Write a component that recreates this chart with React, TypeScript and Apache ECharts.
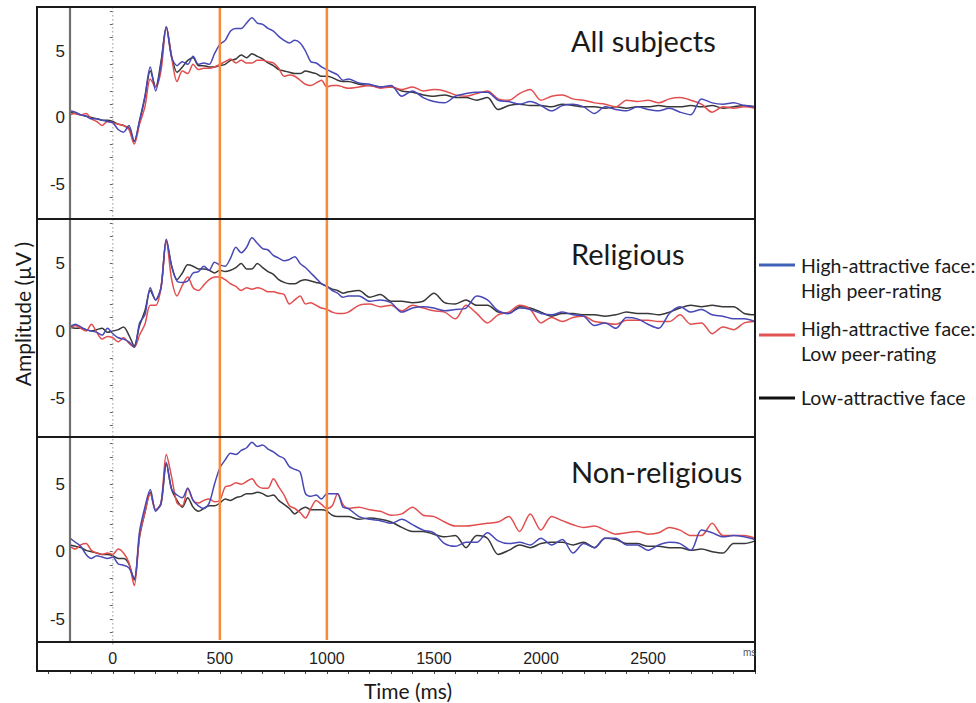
import React, { useEffect, useRef } from "react";
import * as echarts from "echarts";

// Sampling grid of the traces (ms): 25 ms steps up to 1100 ms, 50 ms steps afterwards
const earlyTimes: number[] = [];
for (let t = -200; t <= 1100; t += 25) earlyTimes.push(t);
const lateTimes: number[] = [];
for (let t = 1150; t <= 3000; t += 50) lateTimes.push(t);
const timesMs = earlyTimes.concat(lateTimes);

const panelTitles = ["All subjects", "Religious", "Non-religious"];
const legendLabels = [
  ["High-attractive face:", "High peer-rating"],
  ["High-attractive face:", "Low peer-rating"],
  ["Low-attractive face"],
];
const xTickLabels = [0, 500, 1000, 1500, 2000, 2500];
const yTickLabels = [-5, 0, 5];
const markerTimes = [500, 1000];

// ---- All subjects ----
const allHighHighEarly = [0.5,0.4,0.2,0.1,-0.1,-0.1,-0.2,-0.3,-0.4,-0.9,-1.1,-0.6,-1.8,-0.2,1.6,3.8,2.0,4.0,6.8,4.5,3.9,4.2,4.0,4.6,4.0,4.1,4.0,4.8,5.5,5.8,6.5,6.7,6.7,7.1,7.5,7.1,7.0,6.7,6.5,6.1,5.8,5.6,5.8,5.6,5.0,4.2,4.1,3.8,3.6,3.4,3.2,2.8,2.9];
const allHighHighLate = [2.6,2.5,2.3,2.4,1.6,2.0,1.5,1.2,1.1,1.6,1.8,1.9,1.9,1.3,1.2,1.0,1.2,0.9,0.5,0.9,1.0,0.8,0.3,0.8,0.6,0.5,0.8,0.6,0.5,0.7,0.4,0.2,1.4,1.1,1.0,1.1,0.9,0.8];
const allHighLowEarly = [0.2,0.3,0.2,0.3,-0.1,-0.3,-0.6,-0.3,-0.4,-0.5,-0.6,-0.9,-2.0,-0.5,0.8,2.9,2.3,3.5,6.8,4.5,2.7,3.5,3.3,4.0,3.6,3.7,3.7,3.8,4.0,4.2,4.4,4.1,4.3,4.1,4.1,4.3,4.3,4.2,4.1,3.7,3.1,3.2,3.1,2.8,2.5,2.4,2.6,2.8,2.3,2.4,2.4,2.3,2.2];
const allHighLowLate = [2.3,2.4,2.2,2.3,2.1,2.3,2.0,2.1,2.0,1.7,1.6,1.8,2.0,1.4,1.3,1.8,2.1,1.3,1.6,1.7,1.4,1.3,1.1,1.0,0.8,1.3,1.2,1.3,1.1,1.4,1.5,1.3,1.0,0.4,0.8,0.7,0.8,0.7];
const allLowEarly = [0.4,0.3,0.2,0.1,0.0,-0.1,-0.2,-0.2,-0.3,-0.5,-0.6,-0.8,-1.8,-0.3,1.5,3.5,2.3,4.2,6.8,4.6,3.4,3.8,4.3,4.5,3.9,3.9,3.8,3.8,3.9,4.0,4.3,4.4,4.7,4.5,4.8,4.6,4.4,4.1,3.9,3.6,3.5,3.4,3.3,3.3,3.5,3.4,3.3,3.1,3.1,3.0,2.8,2.7,2.7];
const allLowLate = [2.5,2.4,2.3,2.3,2.0,1.9,1.7,1.6,1.7,1.5,1.5,1.3,1.5,0.6,0.9,1.0,0.9,0.9,0.8,1.0,0.9,0.8,0.8,0.7,0.8,0.7,0.8,0.8,0.9,0.8,0.8,0.9,0.8,0.9,0.7,0.8,0.9,0.8];

// ---- Religious ----
const relHighHighEarly = [0.3,0.5,0.3,0.1,0.0,-0.1,-0.3,0.2,-0.2,-0.5,-0.6,-0.8,-1.2,0.6,1.2,3.2,2.3,3.2,6.8,4.8,3.7,3.6,3.7,4.3,4.4,4.8,4.5,5.1,4.9,4.8,5.4,6.2,5.8,6.2,6.9,6.5,6.1,6.0,5.6,5.4,5.2,5.3,5.5,5.0,4.7,4.3,3.9,3.5,3.3,3.0,2.8,2.5,2.6];
const relHighHighLate = [2.6,2.2,2.3,2.1,1.4,1.7,1.8,1.7,1.5,1.6,1.7,2.6,2.3,1.5,1.3,1.7,1.6,1.3,1.2,1.4,1.2,1.1,0.4,0.6,0.2,1.0,0.9,0.5,0.2,1.3,1.8,1.4,1.6,1.2,1.1,0.9,0.9,0.7];
const relHighLowEarly = [0.2,0.4,0.2,0.0,0.5,-0.1,-0.6,-0.4,-0.5,-0.8,-0.5,-0.9,-1.2,-0.3,0.5,1.9,1.9,3.2,6.7,3.8,2.6,3.4,4.0,3.2,3.0,3.4,3.8,4.0,4.0,3.8,3.5,3.3,3.0,3.2,3.1,3.2,3.1,2.9,2.9,2.8,2.7,2.0,2.3,2.6,2.0,2.1,1.9,1.7,1.6,1.4,1.3,1.3,1.4];
const relHighLowLate = [1.9,2.0,1.8,1.9,1.5,1.9,1.7,1.5,1.4,0.9,1.9,1.3,0.6,1.2,1.4,1.9,1.6,0.6,1.0,0.7,1.0,1.1,0.7,0.6,0.5,0.8,0.8,0.8,0.7,0.7,1.2,0.5,0.6,-0.2,0.3,0.1,0.6,0.7];
const relLowEarly = [0.3,0.2,0.2,0.1,0.0,0.1,0.2,-0.1,0.0,0.1,0.3,-0.3,-1.1,0.4,1.5,3.0,2.3,3.2,6.7,4.8,3.8,4.3,4.9,4.8,4.6,4.6,4.5,4.3,4.5,4.4,4.5,4.7,5.0,4.6,4.6,5.0,4.7,4.4,4.2,3.8,3.6,3.5,3.5,3.7,3.8,3.7,3.6,3.5,3.3,3.1,3.0,2.8,2.9];
const relLowLate = [3.0,2.5,2.7,2.2,2.2,2.1,2.2,2.8,2.1,2.0,2.3,1.9,1.9,1.4,1.3,1.8,1.7,1.4,1.1,1.3,1.3,1.2,1.2,1.1,1.2,1.4,1.3,1.3,1.2,1.4,1.7,1.9,1.8,1.9,1.8,1.8,1.3,1.2];

// ---- Non-religious ----
const nonHighHighEarly = [1.0,0.7,0.4,-0.2,-0.5,-0.3,-0.4,-0.5,-0.4,-0.9,-1.0,-1.2,-2.0,1.5,3.3,4.6,3.0,3.6,6.6,4.6,4.2,4.0,4.7,3.8,3.4,3.2,3.6,5.0,6.2,6.8,7.3,7.2,7.5,7.7,8.1,7.8,7.9,7.6,7.4,7.1,6.9,6.3,6.1,5.9,4.3,4.1,4.2,3.9,4.3,4.3,4.3,3.3,3.2];
const nonHighHighLate = [2.6,2.4,2.3,2.1,2.4,2.0,1.6,1.4,0.6,0.4,0.7,0.7,1.4,0.8,0.6,0.7,0.5,1.0,0.5,0.9,-0.1,0.6,0.3,1.0,1.0,0.5,0.5,0.1,0.5,0.7,0.6,0.1,1.6,1.4,1.1,1.2,1.1,0.9];
const nonHighLowEarly = [0.4,0.2,0.5,0.6,0.1,-0.1,-0.2,-0.1,-0.2,0.2,-0.1,-0.8,-2.5,1.2,2.9,4.3,3.1,3.6,7.2,5.5,3.6,3.4,4.7,3.8,3.6,3.8,3.9,3.7,3.8,4.8,4.9,5.1,5.0,5.2,5.4,4.9,4.7,4.7,5.4,4.8,4.2,3.4,3.2,2.9,2.5,3.2,3.8,3.5,3.2,3.4,4.3,3.5,3.2];
const nonHighLowLate = [3.3,3.1,3.0,2.7,2.8,3.3,2.7,2.6,2.2,1.9,1.9,2.0,2.1,2.2,2.6,1.5,2.8,1.6,2.6,2.3,2.0,1.8,1.9,1.6,1.3,1.4,1.5,1.3,1.4,1.8,1.6,1.2,1.2,2.1,1.2,1.2,1.2,1.0];
const nonLowEarly = [0.5,0.4,0.3,0.1,0.0,-0.1,-0.2,-0.2,-0.3,-0.5,-0.5,-0.9,-2.1,1.1,2.9,4.4,3.1,3.5,6.5,4.6,3.8,3.3,4.0,3.3,3.0,3.2,3.4,3.4,3.6,3.9,3.8,4.0,4.1,4.3,4.3,4.4,4.3,4.1,4.2,3.8,3.5,3.2,2.8,3.1,3.3,3.1,3.1,3.1,3.0,2.7,2.6,2.6,2.6];
const nonLowLate = [2.4,2.5,2.4,2.2,1.8,1.5,1.5,1.3,1.1,1.2,0.3,1.2,1.0,-0.2,0.1,0.5,0.3,0.6,0.7,0.7,0.5,0.7,0.3,1.0,0.9,0.6,0.6,0.4,0.4,0.3,0.3,0.1,0.2,0.0,-0.1,0.6,0.6,0.8];

const panels = [
  { low: allLowEarly.concat(allLowLate), highLow: allHighLowEarly.concat(allHighLowLate), highHigh: allHighHighEarly.concat(allHighHighLate) },
  { low: relLowEarly.concat(relLowLate), highLow: relHighLowEarly.concat(relHighLowLate), highHigh: relHighHighEarly.concat(relHighHighLate) },
  { low: nonLowEarly.concat(nonLowLate), highLow: nonHighLowEarly.concat(nonHighLowLate), highHigh: nonHighHighEarly.concat(nonHighHighLate) },
];

const BLUE = "#4848b6";
const RED = "#e24e4e";
const BLACK = "#383838";
const ORANGE = "#f7893b";
const FONT = "Lato, 'Open Sans', sans-serif";
const NUMFONT = "'Liberation Sans', Arial, sans-serif";

const zip = (vals: number[]) => timesMs.map((t, i) => [t, vals[i]]);

const gridBoxes = [
  { left: 70, width: 685, top: 11.1, height: 199.5 },
  { left: 70, width: 685, top: 223, height: 202.5 },
  { left: 70, width: 685, top: 443.7, height: 189 },
  { left: 48.6, width: 706.5, top: 642, height: 29 },
];
const yRanges = [
  [-7, 8],
  [-7, 8],
  [-6, 8],
];

export default function App() {
  const ref = useRef<HTMLDivElement>(null);
  useEffect(() => {
    if (!ref.current) return;
    const chart = echarts.init(ref.current, null, { renderer: "svg" });

    const series: any[] = [];
    panels.forEach((p, i) => {
      const mk = (name: string, data: number[], color: string) => ({
        type: "line",
        name,
        xAxisIndex: i,
        yAxisIndex: i,
        data: zip(data),
        showSymbol: false,
        smooth: 0.3,
        clip: false,
        lineStyle: { color, width: 1.5 },
        itemStyle: { color },
        z: 3,
      });
      series.push(mk("Low-attractive face", p.low, BLACK));
      series.push(mk("High-attractive face: Low peer-rating", p.highLow, RED));
      series.push(mk("High-attractive face: High peer-rating", p.highHigh, BLUE));
    });

    const xAxes: any[] = [0, 1, 2].map((i) => ({
      type: "value",
      gridIndex: i,
      min: -200,
      max: 3000,
      show: false,
    }));
    xAxes.push({
      type: "value",
      gridIndex: 3,
      min: -300,
      max: 3000,
      interval: 100,
      position: "top",
      axisLine: { show: false },
      axisTick: { show: true, inside: true, length: 3, lineStyle: { color: "#444", width: 1 } },
      axisLabel: {
        inside: true,
        margin: 8,
        fontSize: 16,
        color: "#1e1e1e",
        fontFamily: NUMFONT,
        formatter: (v: number) => (xTickLabels.indexOf(v) >= 0 ? String(v) : ""),
      },
      splitLine: { show: false },
    });

    const yAxes: any[] = [0, 1, 2].map((i) => ({
      type: "value",
      gridIndex: i,
      min: yRanges[i][0],
      max: yRanges[i][1],
      interval: 1,
      axisLine: { show: false },
      axisTick: { show: true, length: 3, lineStyle: { color: "#666", width: 1 } },
      axisLabel: {
        margin: 5,
        fontSize: 17,
        color: "#222",
        fontFamily: NUMFONT,
        formatter: (v: number) => (yTickLabels.indexOf(v) >= 0 ? String(v) : ""),
      },
      splitLine: { show: false },
    }));
    yAxes.push({ type: "value", gridIndex: 3, show: false, min: 0, max: 1 });

    chart.setOption({
      animation: false,
      backgroundColor: "#ffffff",
      grid: gridBoxes.map((g) => ({ ...g, containLabel: false })),
      xAxis: xAxes,
      yAxis: yAxes,
      series,
    });

    const px = (t: number) => chart.convertToPixel({ xAxisIndex: 0 }, t) as number;
    const topY = 7;
    const sepYs = [219, 437, 642];
    const bottomY = 671;
    const titleYs = [40, 253, 471];

    const graphic: any[] = [];
    graphic.push({
      type: "line",
      shape: { x1: px(-200), y1: topY, x2: px(-200), y2: sepYs[2] },
      style: { stroke: "#707070", lineWidth: 2.2 },
      z: 4,
    });
    graphic.push({
      type: "line",
      shape: { x1: px(0), y1: topY, x2: px(0), y2: sepYs[2] + 4 },
      style: { stroke: "#9a9a9a", lineWidth: 1, lineDash: [1.5, 2.5] },
      z: 4,
    });
    markerTimes.forEach((t) => {
      graphic.push({
        type: "line",
        shape: { x1: px(t), y1: topY, x2: px(t), y2: sepYs[2] - 2 },
        style: { stroke: ORANGE, lineWidth: 2.5 },
        z: 10,
      });
    });
    graphic.push({
      type: "rect",
      shape: { x: 37, y: topY, width: 718, height: bottomY - topY },
      style: { fill: "none", stroke: "#1a1a1a", lineWidth: 2 },
      z: 20,
    });
    sepYs.forEach((y) => {
      graphic.push({
        type: "line",
        shape: { x1: 37, y1: y, x2: 755, y2: y },
        style: { stroke: "#1a1a1a", lineWidth: 2.2 },
        z: 20,
      });
    });
    panelTitles.forEach((txt, i) => {
      graphic.push({
        type: "text",
        x: 571,
        y: titleYs[i],
        style: { text: txt, fontSize: 29, fontFamily: FONT, fill: "#1a1a1a", align: "left", verticalAlign: "middle" },
        z: 21,
      });
    });
    graphic.push({
      type: "text",
      x: 743,
      y: 652,
      style: { text: "ms", fontSize: 10, fontFamily: NUMFONT, fill: "#555", align: "left", verticalAlign: "middle" },
      z: 21,
    });
    graphic.push({
      type: "text",
      x: 408,
      y: 690,
      style: { text: "Time (ms)", fontSize: 21, fontFamily: FONT, fill: "#1a1a1a", align: "center", verticalAlign: "middle" },
      z: 21,
    });
    graphic.push({
      type: "text",
      x: 22,
      y: 314,
      rotation: Math.PI / 2,
      style: { text: "Amplitude (µV )", fontSize: 21, fontFamily: FONT, fill: "#1a1a1a", align: "center", verticalAlign: "middle" },
      z: 21,
    });
    const legendColors = ["#3f62b8", "#e35454", "#111111"];
    const legendLineYs = [265, 335, 398];
    const legendTextYs = [[265, 290], [328, 353], [397]];
    legendLabels.forEach((lines, i) => {
      graphic.push({
        type: "line",
        shape: { x1: 759, y1: legendLineYs[i], x2: 795, y2: legendLineYs[i] },
        style: { stroke: legendColors[i], lineWidth: 3 },
        z: 21,
      });
      lines.forEach((ln, j) => {
        graphic.push({
          type: "text",
          x: 801,
          y: legendTextYs[i][j],
          style: { text: ln, fontSize: 19.5, fontFamily: FONT, fill: "#1a1a1a", align: "left", verticalAlign: "middle" },
          z: 21,
        });
      });
    });

    chart.setOption({ graphic });

    return () => {
      chart.dispose();
    };
  }, []);

  return (
    <div
      ref={ref}
      style={{ position: "fixed", left: 0, top: 0, width: 976, height: 703, background: "#ffffff" }}
    />
  );
}
